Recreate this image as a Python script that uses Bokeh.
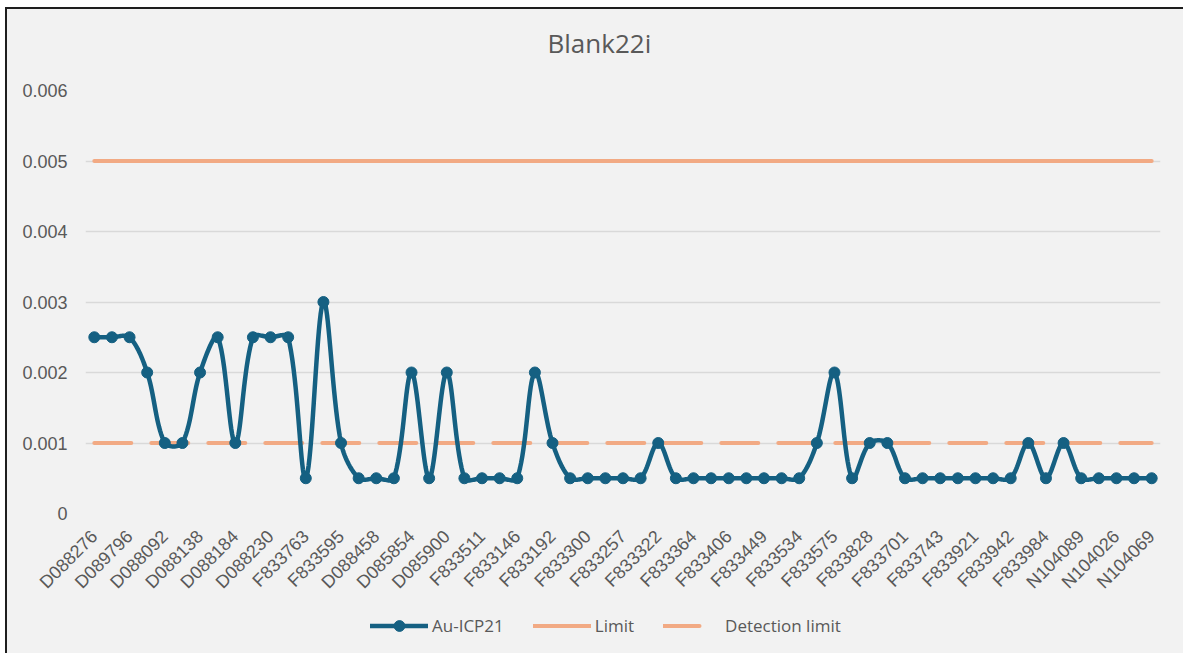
import math
import numpy as np
from bokeh.plotting import figure
from bokeh.layouts import column
from bokeh.models import (FixedTicker, NumeralTickFormatter, Legend, LegendItem, Range1d,
                          Label)
from bokeh.embed import file_html
from bokeh.resources import INLINE

# ---- data -------------------------------------------------------------
# sample IDs shown on the axis (every second category is labelled)
shown_labels = ["D088276", "D089796", "D088092", "D088138", "D088184", "D088230",
                "F833763", "F833595", "D088458", "D085854", "D085900", "F833511",
                "F833146", "F833192", "F833300", "F833257", "F833322", "F833364",
                "F833406", "F833449", "F833534", "F833575", "F833828", "F833701",
                "F833743", "F833921", "F833942", "F833984", "N104089", "N104026",
                "N104069"]

au_icp21 = [0.0025, 0.0025, 0.0025, 0.002, 0.001, 0.001, 0.002, 0.0025, 0.001, 0.0025,
            0.0025, 0.0025, 0.0005, 0.003, 0.001, 0.0005, 0.0005, 0.0005, 0.002, 0.0005,
            0.002, 0.0005, 0.0005, 0.0005, 0.0005, 0.002, 0.001, 0.0005, 0.0005, 0.0005,
            0.0005, 0.0005, 0.001, 0.0005, 0.0005, 0.0005, 0.0005, 0.0005, 0.0005, 0.0005,
            0.0005, 0.001, 0.002, 0.0005, 0.001, 0.001, 0.0005, 0.0005, 0.0005, 0.0005,
            0.0005, 0.0005, 0.0005, 0.001, 0.0005, 0.001, 0.0005, 0.0005, 0.0005, 0.0005,
            0.0005]

limit = [0.005, 0.005, 0.005, 0.005, 0.005, 0.005, 0.005, 0.005, 0.005, 0.005,
         0.005, 0.005, 0.005, 0.005, 0.005, 0.005, 0.005, 0.005, 0.005, 0.005,
         0.005, 0.005, 0.005, 0.005, 0.005, 0.005, 0.005, 0.005, 0.005, 0.005,
         0.005, 0.005, 0.005, 0.005, 0.005, 0.005, 0.005, 0.005, 0.005, 0.005,
         0.005, 0.005, 0.005, 0.005, 0.005, 0.005, 0.005, 0.005, 0.005, 0.005,
         0.005, 0.005, 0.005, 0.005, 0.005, 0.005, 0.005, 0.005, 0.005, 0.005,
         0.005]

detection_limit = [0.001, 0.001, 0.001, 0.001, 0.001, 0.001, 0.001, 0.001, 0.001, 0.001,
                   0.001, 0.001, 0.001, 0.001, 0.001, 0.001, 0.001, 0.001, 0.001, 0.001,
                   0.001, 0.001, 0.001, 0.001, 0.001, 0.001, 0.001, 0.001, 0.001, 0.001,
                   0.001, 0.001, 0.001, 0.001, 0.001, 0.001, 0.001, 0.001, 0.001, 0.001,
                   0.001, 0.001, 0.001, 0.001, 0.001, 0.001, 0.001, 0.001, 0.001, 0.001,
                   0.001, 0.001, 0.001, 0.001, 0.001, 0.001, 0.001, 0.001, 0.001, 0.001,
                   0.001]

y_ticks = [0, 0.001, 0.002, 0.003, 0.004, 0.005, 0.006]
chart_title = "Blank22i"

# ---- styling ----------------------------------------------------------
BLUE = "#156082"
ORANGE = "#F2AA84"
GREY_TXT = "#595959"
BG = "#F2F2F2"

n = len(au_icp21)
xs = list(range(n))

# Excel-like smoothed curve: Bezier segments whose control vectors are scaled by the
# relative (on-screen) segment lengths; computed in pixel space.
PX_PER_X = 17.62        # pixels per category
PX_PER_Y = 70500.0      # pixels per unit of y

def smooth(xv, yv, steps=20):
    P = np.column_stack([np.asarray(xv, float) * PX_PER_X, np.asarray(yv, float) * PX_PER_Y])
    m = len(P)
    out = [P[0]]
    for i in range(m - 1):
        p0 = P[max(i - 1, 0)]
        p1 = P[i]
        p2 = P[i + 1]
        p3 = P[min(i + 2, m - 1)]
        d01 = np.hypot(*(p1 - p0))
        d12 = np.hypot(*(p2 - p1))
        d23 = np.hypot(*(p3 - p2))
        f1 = d12 / (d01 + d12) / 3.0 if (d01 + d12) > 0 else 0.0
        f2 = d12 / (d12 + d23) / 3.0 if (d12 + d23) > 0 else 0.0
        c1 = p1 + (p2 - p0) * f1
        c2 = p2 - (p3 - p1) * f2
        for t in np.linspace(0, 1, steps + 1)[1:]:
            b = ((1 - t) ** 3) * p1 + 3 * ((1 - t) ** 2) * t * c1 + 3 * (1 - t) * t * t * c2 + t ** 3 * p2
            out.append(b)
    out = np.array(out)
    return list(out[:, 0] / PX_PER_X), list(out[:, 1] / PX_PER_Y)

sx, sy = smooth(xs, au_icp21)

W = 1176

# ---- title strip ----------------------------------------------------------
tf = figure(width=W, height=71, output_backend="svg", toolbar_location=None,
            x_range=Range1d(85, 1160), y_range=Range1d(80, 9),
            x_axis_location=None, y_axis_location=None,
            background_fill_color=BG, border_fill_color=BG, min_border=0)
tf.outline_line_color = None
tf.grid.visible = False
tf.add_layout(Label(x=547, y=42, text=chart_title, text_font="Open Sans",
                    text_font_size="26px", text_color=GREY_TXT,
                    text_align="left", text_baseline="alphabetic"))

# ---- main chart -----------------------------------------------------------
p = figure(width=W, height=526, output_backend="svg", toolbar_location=None,
           x_range=Range1d(-0.5, n - 0.5), y_range=Range1d(0, 0.006),
           background_fill_color=BG, border_fill_color=BG,
           min_border_left=78, min_border_right=23, min_border_top=10, min_border_bottom=93)
p.outline_line_color = None

# grid
p.xgrid.grid_line_color = None
p.ygrid.grid_line_color = "#D9D9D9"
p.ygrid.grid_line_width = 1.5
p.yaxis.ticker = FixedTicker(ticks=y_ticks)

# y axis
p.yaxis.formatter = NumeralTickFormatter(format="0.[000]")
p.yaxis.axis_line_color = None
p.yaxis.major_tick_line_color = None
p.yaxis.minor_tick_line_color = None
p.yaxis.major_tick_out = 0
p.yaxis.major_tick_in = 0
p.yaxis.minor_tick_out = 0
p.yaxis.major_label_text_font = "Liberation Sans"
p.yaxis.major_label_text_font_size = "18px"
p.yaxis.major_label_text_color = GREY_TXT
p.yaxis.major_label_standoff = 18

# x axis
label_pos = list(range(0, n, 2))
p.xaxis.ticker = FixedTicker(ticks=label_pos)
p.xaxis.major_label_overrides = {pos: lab for pos, lab in zip(label_pos, shown_labels)}
p.xaxis.major_label_orientation = math.pi / 4
p.xaxis.axis_line_color = None
p.xaxis.major_tick_line_color = None
p.xaxis.minor_tick_line_color = None
p.xaxis.major_tick_out = 0
p.xaxis.major_tick_in = 0
p.xaxis.minor_tick_out = 0
p.xaxis.major_label_text_font = "Liberation Sans"
p.xaxis.major_label_text_font_size = "18px"
p.xaxis.major_label_text_color = GREY_TXT
p.xaxis.major_label_standoff = 20

# series
p.line(xs, limit, line_color=ORANGE, line_width=4, line_cap="round")
p.line(xs, detection_limit, line_color=ORANGE, line_width=4, line_cap="round",
       line_dash="37 20")
p.line(sx, sy, line_color=BLUE, line_width=4.5, line_cap="round", line_join="round")
p.scatter(xs, au_icp21, marker="circle", size=11, fill_color=BLUE, line_color=BLUE)

# ---- legend strip (below the chart) ------------------------------------
lf = figure(width=W, height=47, output_backend="svg", toolbar_location=None,
            x_range=Range1d(0, 1), y_range=Range1d(0, 1),
            x_axis_location=None, y_axis_location=None,
            background_fill_color=BG, border_fill_color=BG, min_border=0)
lf.outline_line_color = None
lf.grid.visible = False
nan = [float("nan")]
k_au_l = lf.line(nan, nan, line_color=BLUE, line_width=4.5, line_cap="round")
k_au_m = lf.scatter(nan, nan, marker="circle", size=11, fill_color=BLUE, line_color=BLUE)
k_lim = lf.line(nan, nan, line_color=ORANGE, line_width=4, line_cap="round")
k_det = lf.line(nan, nan, line_color=ORANGE, line_width=4, line_cap="round",
                line_dash="36 60")

legend = Legend(items=[LegendItem(label="Au-ICP21", renderers=[k_au_l, k_au_m]),
                       LegendItem(label="Limit", renderers=[k_lim]),
                       LegendItem(label="Detection limit", renderers=[k_det])],
                orientation="horizontal", location=(285, 14),
                glyph_width=58, glyph_height=27, label_standoff=4, spacing=29,
                padding=0, margin=0, border_line_alpha=0, background_fill_alpha=0,
                label_text_font="Open Sans", label_text_font_size="17px",
                label_text_color=GREY_TXT)
lf.add_layout(legend, "center")

layout = column(tf, p, lf, spacing=0,
                styles={"margin-left": "5px", "margin-top": "7px",
                        "border-top": "2px solid #1e1e1e", "border-left": "2px solid #1e1e1e",
                        "background-color": BG})

open("out.html", "w").write(file_html(layout, INLINE))
